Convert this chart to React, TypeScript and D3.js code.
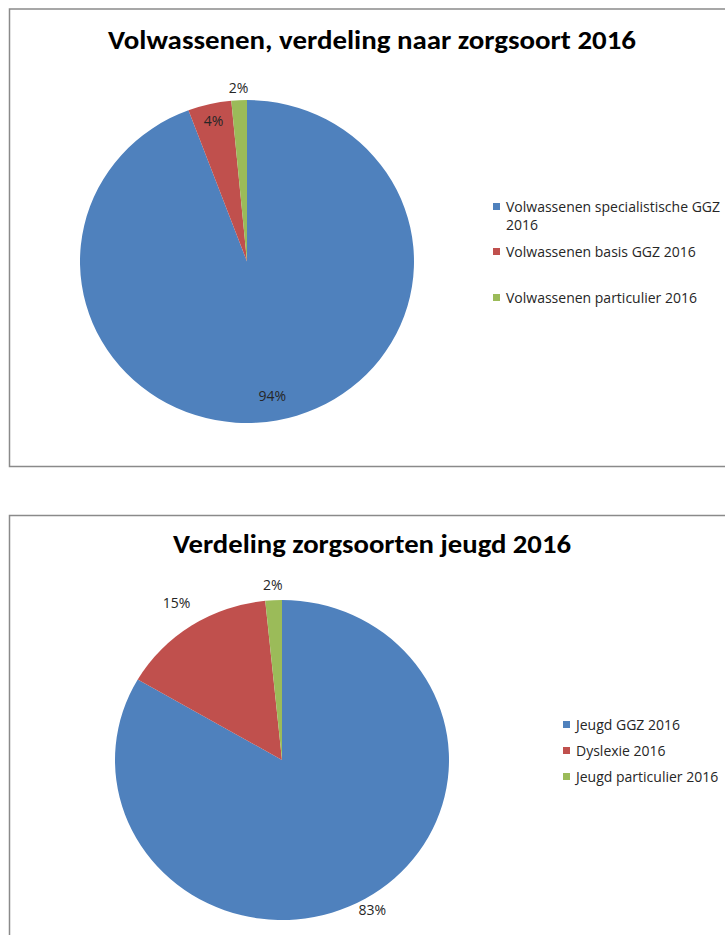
import React from "react";
import * as d3 from "d3";

const adultCategories = [
  "Volwassenen specialistische GGZ 2016",
  "Volwassenen basis GGZ 2016",
  "Volwassenen particulier 2016",
];
const adultValues = [94.3, 4.2, 1.5];
const adultLabels = ["94%", "4%", "2%"];

const youthCategories = ["Jeugd GGZ 2016", "Dyslexie 2016", "Jeugd particulier 2016"];
const youthValues = [83.4, 15.0, 1.6];
const youthLabels = ["83%", "15%", "2%"];

const colors = ["#4F81BD", "#C0504D", "#9BBB59"];

type PieProps = {
  top: number;
  bottom: number;
  title: string;
  titleLen: number;
  titleY: number;
  values: number[];
  labels: string[];
  labelR: number[];
  cx: number;
  cy: number;
  rx: number;
  ry: number;
  legend: string[][];
  legendX: number;
  legendY: number[];
};

function PieChart(p: PieProps) {
  const pie = d3.pie<number>().sort(null).value((d) => d)(p.values);
  const arc = d3.arc<d3.PieArcDatum<number>>().innerRadius(0).outerRadius(p.ry);
  const titleFont = "Carlito, Calibri, 'Noto Sans', sans-serif";
  const font = "'Open Sans', 'Noto Sans', sans-serif";
  return (
    <g>
      <rect
        x={9.5}
        y={p.top}
        width={740}
        height={p.bottom - p.top}
        fill="#fff"
        stroke="#8a8a8a"
        strokeWidth={1.5}
      />
      <text
        x={372}
        y={p.titleY}
        textAnchor="middle"
        fontFamily={titleFont}
        fontWeight="bold"
        fontSize={26}
        fill="#000"
        textLength={p.titleLen}
        lengthAdjust="spacingAndGlyphs"
      >
        {p.title}
      </text>
      <g transform={`translate(${p.cx},${p.cy}) scale(${p.rx / p.ry},1)`}>
        {pie.map((d, i) => (
          <path key={i} d={arc(d) || ""} fill={colors[i]} />
        ))}
      </g>
      {pie.map((d, i) => {
        const a = (d.startAngle + d.endAngle) / 2;
        const x = p.cx + p.rx * p.labelR[i] * Math.sin(a);
        const y = p.cy - p.ry * p.labelR[i] * Math.cos(a);
        return (
          <text
            key={i}
            x={x}
            y={y}
            dy="0.35em"
            textAnchor="middle"
            fontFamily={font}
            fontSize={14}
            fill="#262626"
          >
            {p.labels[i]}
          </text>
        );
      })}
      {p.legend.map((lines, i) => (
        <g key={i}>
          <rect x={p.legendX} y={p.legendY[i] - 4} width={7} height={7} fill={colors[i]} />
          {lines.map((l, j) => (
            <text
              key={j}
              x={p.legendX + 13}
              y={p.legendY[i] + j * 18}
              dy="0.35em"
              fontFamily={font}
              fontSize={14}
              fill="#262626"
            >
              {l}
            </text>
          ))}
        </g>
      ))}
    </g>
  );
}

export default function App() {
  return (
    <svg
      width={725}
      height={935}
      style={{ position: "absolute", left: 0, top: 0, background: "#fff" }}
    >
      <PieChart
        top={9}
        bottom={466.5}
        title="Volwassenen, verdeling naar zorgsoort 2016"
        titleLen={528}
        titleY={49}
        values={adultValues}
        labels={adultLabels}
        labelR={[0.85, 0.895, 1.075]}
        cx={247}
        cy={261.5}
        rx={167}
        ry={161.5}
        legend={[
          ["Volwassenen specialistische GGZ", "2016"],
          [adultCategories[1]],
          [adultCategories[2]],
        ]}
        legendX={493}
        legendY={[207, 252, 298]}
      />
      <PieChart
        top={515.5}
        bottom={960}
        title="Verdeling zorgsoorten jeugd 2016"
        titleLen={398}
        titleY={553}
        values={youthValues}
        labels={youthLabels}
        labelR={[1.084, 1.167, 1.096]}
        cx={282}
        cy={760}
        rx={167}
        ry={160}
        legend={youthCategories.map((c) => [c])}
        legendX={563}
        legendY={[725, 751, 777]}
      />
    </svg>
  );
}
